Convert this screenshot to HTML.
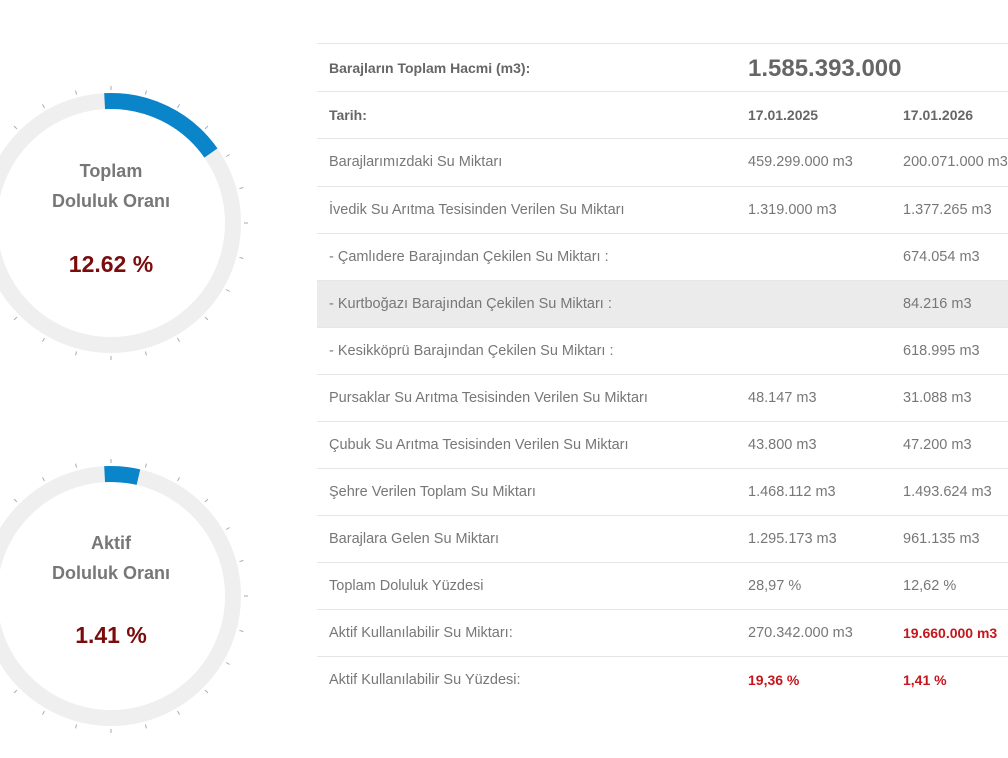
<!DOCTYPE html>
<html><head><meta charset="utf-8"><style>
body{margin:0;width:1008px;height:758px;background:#fff;font-family:"Liberation Sans",sans-serif;overflow:hidden;position:relative}
.g{position:absolute;left:0;top:0}
.gt{position:absolute;width:222px;left:0;text-align:center;color:#777;font-weight:bold;font-size:18px}
.gv{position:absolute;width:222px;left:0;text-align:center;color:#7a0c0c;font-weight:bold;font-size:23px}
.row{position:absolute;left:317px;width:691px;height:47px;border-top:1px solid #e6e6e6;color:#777;font-size:14.5px}
.row span{position:absolute;top:15px;white-space:nowrap}
.c1{left:12px}.c2{left:431px}.c3{left:586px}
.b{font-weight:bold;color:#666;font-size:14px}
.r{color:#c4161c;font-weight:bold;font-size:14px}
</style></head><body>
<svg class="g" width="300" height="758" id="s"></svg>
<div class="gt" style="top:161px">Toplam</div>
<div class="gt" style="top:191px">Doluluk Oranı</div>
<div class="gv" style="top:251px">12.62 %</div>
<div class="gt" style="top:533px">Aktif</div>
<div class="gt" style="top:563px">Doluluk Oranı</div>
<div class="gv" style="top:622px">1.41 %</div>

<div class="row" style="top:43px"><span class="c1 b" style="top:16px">Barajların Toplam Hacmi (m3):</span><span class="c2 b" style="top:11px;font-size:24px">1.585.393.000</span></div>
<div class="row" style="top:91px"><span class="c1 b">Tarih:</span><span class="c2 b">17.01.2025</span><span class="c3 b">17.01.2026</span></div>
<div class="row" style="top:138px"><span class="c1">Barajlarımızdaki Su Miktarı</span><span class="c2">459.299.000 m3</span><span class="c3">200.071.000 m3</span></div>
<div class="row" style="top:186px"><span class="c1">İvedik Su Arıtma Tesisinden Verilen Su Miktarı</span><span class="c2">1.319.000 m3</span><span class="c3">1.377.265 m3</span></div>
<div class="row" style="top:233px"><span class="c1">- Çamlıdere Barajından Çekilen Su Miktarı :</span><span class="c3">674.054 m3</span></div>
<div class="row" style="top:280px;background:#ebebeb"><span class="c1">- Kurtboğazı Barajından Çekilen Su Miktarı :</span><span class="c3">84.216 m3</span></div>
<div class="row" style="top:327px"><span class="c1">- Kesikköprü Barajından Çekilen Su Miktarı :</span><span class="c3">618.995 m3</span></div>
<div class="row" style="top:374px"><span class="c1">Pursaklar Su Arıtma Tesisinden Verilen Su Miktarı</span><span class="c2">48.147 m3</span><span class="c3">31.088 m3</span></div>
<div class="row" style="top:421px"><span class="c1">Çubuk Su Arıtma Tesisinden Verilen Su Miktarı</span><span class="c2">43.800 m3</span><span class="c3">47.200 m3</span></div>
<div class="row" style="top:468px"><span class="c1">Şehre Verilen Toplam Su Miktarı</span><span class="c2">1.468.112 m3</span><span class="c3">1.493.624 m3</span></div>
<div class="row" style="top:515px"><span class="c1">Barajlara Gelen Su Miktarı</span><span class="c2">1.295.173 m3</span><span class="c3">961.135 m3</span></div>
<div class="row" style="top:562px"><span class="c1">Toplam Doluluk Yüzdesi</span><span class="c2">28,97 %</span><span class="c3">12,62 %</span></div>
<div class="row" style="top:609px"><span class="c1">Aktif Kullanılabilir Su Miktarı:</span><span class="c2">270.342.000 m3</span><span class="c3 r">19.660.000 m3</span></div>
<div class="row" style="top:656px"><span class="c1">Aktif Kullanılabilir Su Yüzdesi:</span><span class="c2 r">19,36 %</span><span class="c3 r">1,41 %</span></div>
<script>
var s=document.getElementById('s'),h='';
function arc(cx,cy,r,a0,a1){var p=function(a){a=(a-90)*Math.PI/180;return [cx+r*Math.cos(a),cy+r*Math.sin(a)]};var A=p(a0),B=p(a1);return 'M'+A[0]+' '+A[1]+' A'+r+' '+r+' 0 '+((a1-a0)>180?1:0)+' 1 '+B[0]+' '+B[1];}
[[111,223,55],[111,596,13]].forEach(function(g){
 h+='<circle cx="'+g[0]+'" cy="'+g[1]+'" r="122" fill="none" stroke="#efefef" stroke-width="16"/>';
 h+='<path d="'+arc(g[0],g[1],122,-3,g[2])+'" fill="none" stroke="#0a85c9" stroke-width="16"/>';
 for(var i=0;i<24;i++){var a=i*15*Math.PI/180,sn=Math.sin(a),cs=-Math.cos(a);
  h+='<line x1="'+(g[0]+133*sn)+'" y1="'+(g[1]+133*cs)+'" x2="'+(g[0]+137*sn)+'" y2="'+(g[1]+137*cs)+'" stroke="#aaa" stroke-width="1"/>';}
});
s.innerHTML=h;
</script>
</body></html>
